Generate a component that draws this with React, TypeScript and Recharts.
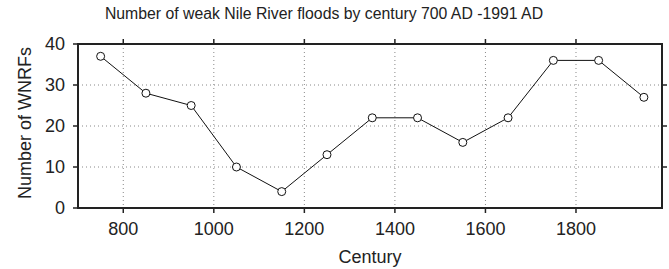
import { LineChart, Line, XAxis, YAxis, CartesianGrid } from "recharts";

const centuries = [750, 850, 950, 1050, 1150, 1250, 1350, 1450, 1550, 1650, 1750, 1850, 1950];
const floods = [37, 28, 25, 10, 4, 13, 22, 22, 16, 22, 36, 36, 27];
const xTicks = [800, 1000, 1200, 1400, 1600, 1800];
const yTicks = [0, 10, 20, 30, 40];
const xMin = 700;
const xMax = 1990;
const yMax = 40;

const data = centuries.map((c, i) => ({ century: c, count: floods[i] }));

const W = 669;
const H = 269;
const MARGIN = { top: 44, right: 7, bottom: 21, left: 28 };
const Y_AXIS_W = 50;
const X_AXIS_H = 40;
// plot box, derived from the layout above
const PLOT_L = MARGIN.left + Y_AXIS_W;
const PLOT_T = MARGIN.top;
const PLOT_R = W - MARGIN.right;
const PLOT_B = H - MARGIN.bottom - X_AXIS_H;

const FONT = "Liberation Sans, Arial, sans-serif";
const ink = "#222";

// bottom tick label + mirrored tick on the top edge
const XTick = (props: any) => {
  const { x, y, payload } = props;
  return (
    <g>
      <text x={x} y={y} dy="0.71em" textAnchor="middle" fontSize={18} fill={ink} fontFamily={FONT}>
        {payload.value}
      </text>
      <line x1={x} x2={x} y1={PLOT_T} y2={PLOT_T - 5} stroke={ink} strokeWidth={1.5} />
    </g>
  );
};

// left tick label + mirrored tick on the right edge
const YTick = (props: any) => {
  const { x, y, payload } = props;
  return (
    <g>
      <text x={x} y={y} dy="0.355em" textAnchor="end" fontSize={18} fill={ink} fontFamily={FONT}>
        {payload.value}
      </text>
      {payload.value !== yMax && payload.value !== 0 && (
        <line x1={PLOT_R} x2={PLOT_R + 5} y1={y} y2={y} stroke={ink} strokeWidth={1.5} />
      )}
    </g>
  );
};

export default function App() {
  return (
    <div style={{ position: "fixed", left: 0, top: 0, width: W, height: H, background: "#fff", fontFamily: FONT }}>
      <svg width={W} height={H} style={{ position: "absolute", left: 0, top: 0, pointerEvents: "none", zIndex: 1 }}>
        <text x={324} y={19} textAnchor="middle" fontSize={15.8} fill={ink} fontFamily={FONT}>
          Number of weak Nile River floods by century 700 AD -1991 AD
        </text>
        <text x={370} y={263} textAnchor="middle" fontSize={18} fill={ink} fontFamily={FONT}>
          Century
        </text>
        <text
          x={0}
          y={0}
          transform="translate(31,123) rotate(-90)"
          textAnchor="middle"
          fontSize={18}
          fill={ink}
          fontFamily={FONT}
        >
          Number of WNRFs
        </text>
        <rect x={PLOT_L} y={PLOT_T} width={PLOT_R - PLOT_L} height={PLOT_B - PLOT_T} fill="none" stroke={ink} strokeWidth={2} />
      </svg>
      <LineChart width={W} height={H} data={data} margin={MARGIN}>
        <CartesianGrid stroke="#888" strokeDasharray="1 3" />
        <XAxis
          dataKey="century"
          type="number"
          domain={[xMin, xMax]}
          ticks={xTicks}
          allowDataOverflow
          height={X_AXIS_H}
          tickSize={5}
          tickMargin={9}
          stroke={ink}
          strokeWidth={1.5}
          tick={<XTick />}
        />
        <YAxis
          domain={[0, yMax]}
          ticks={yTicks}
          width={Y_AXIS_W}
          tickSize={5}
          tickMargin={8}
          stroke={ink}
          strokeWidth={1.5}
          tick={<YTick />}
        />
        <Line
          dataKey="count"
          type="linear"
          stroke="#111"
          strokeWidth={1}
          dot={{ r: 4, stroke: "#111", strokeWidth: 1, fill: "#fff" }}
          isAnimationActive={false}
        />
      </LineChart>
    </div>
  );
}
